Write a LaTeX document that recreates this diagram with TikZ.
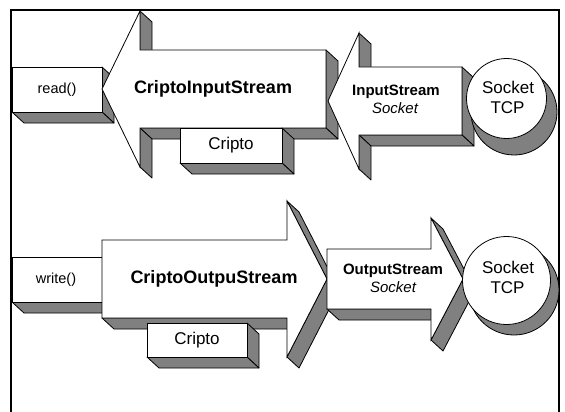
\documentclass[tikz,border=0pt]{standalone}
\usepackage{fontspec}
\setmainfont{Liberation Sans}
\definecolor{shade}{RGB}{128,128,128}
\tikzset{
  face/.style={fill=shade,draw=black,line width=0.8pt,line join=round},
  front/.style={fill=white,draw=black,line width=0.8pt,line join=miter},
  lbl/.style={inner sep=0pt,text height=0.72em,text depth=0pt},
  big/.style={lbl,font=\fontsize{18}{20}\selectfont\bfseries},
  mid/.style={lbl,font=\fontsize{15}{17}\selectfont\bfseries},
  midit/.style={lbl,font=\fontsize{15}{17}\selectfont\itshape},
  box/.style={lbl,font=\fontsize{17}{19}\selectfont},
  small/.style={lbl,font=\fontsize{14.5}{16}\selectfont},
  frame/.style={draw=black,line width=2pt}
}
\begin{document}
\begin{tikzpicture}[x=1pt,y=-1pt]
\useasboundingbox (0,0) rectangle (565,412);
\fill[white] (0,0) rectangle (565,412);
\draw[frame] (11,414) -- (11,10.5) -- (559,10.5) -- (559,414);

% ---------- top row ----------
% read() box
\draw[face] (102,67) -- (102,112) -- (114,123) -- (114,78) -- cycle;
\draw[face] (102,112) -- (12,112) -- (24,123) -- (114,123) -- cycle;
\draw[front] (12,67) rectangle (102,112);
\node[small] (read) at (57,90) {read()};

% CriptoInputStream arrow (pointing left)
\draw[face] (140,11) -- (140,50) -- (152,61) -- (152,22) -- cycle;
\draw[face] (326,50) -- (326,128) -- (338,139) -- (338,61) -- cycle;
\draw[face] (326,128) -- (140,128) -- (152,139) -- (338,139) -- cycle;
\draw[face] (140,128) -- (140,167) -- (152,178) -- (152,139) -- cycle;
\draw[front] (102,89) -- (140,11) -- (140,50) -- (326,50) -- (326,128) -- (140,128) -- (140,167) -- cycle;
\node[big] (cis) at (213,90) {CriptoInputStream};

% Cripto box (top)
\draw[face] (282,128) -- (282,163) -- (294,174) -- (294,139) -- cycle;
\draw[face] (282,163) -- (180,163) -- (192,174) -- (294,174) -- cycle;
\draw[front] (180,128) rectangle (282,163);
\node[box] (cripto1) at (231,146) {Cripto};

% InputStream arrow (pointing left)
\draw[face] (359,33) -- (359,67) -- (371,78) -- (371,44) -- cycle;
\draw[face] (462,67) -- (462,135) -- (474,146) -- (474,78) -- cycle;
\draw[face] (462,135) -- (359,135) -- (371,146) -- (474,146) -- cycle;
\draw[face] (359,135) -- (359,169) -- (371,180) -- (371,146) -- cycle;
\draw[front] (328,101) -- (359,33) -- (359,67) -- (462,67) -- (462,135) -- (359,135) -- (359,169) -- cycle;
\node[mid] (is) at (396,92) {InputStream};
\node[midit] (is2) at (395,110) {Socket};

% Socket TCP (top)
\draw[face] (514,112) circle[radius=43];
\draw[front] (506.5,98.5) circle[radius=40];
\node[box] (tcp1a) at (508,90) {Socket};
\node[box] (tcp1b) at (507.5,110) {TCP};

% ---------- bottom row ----------
% write() box
\draw[face] (102,257) -- (102,302) -- (114,313) -- (114,268) -- cycle;
\draw[face] (102,302) -- (12,302) -- (24,313) -- (114,313) -- cycle;
\draw[front] (12,257) rectangle (102,302);
\node[small] (write) at (56,280) {write()};

% CriptoOutpuStream arrow (pointing right)
\draw[face] (287,318) -- (102,318) -- (114,329) -- (299,329) -- cycle;
\draw[face] (287,201) -- (327,279) -- (339,290) -- (299,212) -- cycle;
\draw[face] (327,279) -- (287,357) -- (299,368) -- (339,290) -- cycle;
\draw[front] (102,240) -- (287,240) -- (287,201) -- (327,279) -- (287,357) -- (287,318) -- (102,318) -- cycle;
\node[big] (cos) at (214,280) {CriptoOutpuStream};

% Cripto box (bottom)
\draw[face] (247,323) -- (247,357) -- (259,368) -- (259,334) -- cycle;
\draw[face] (247,357) -- (147,357) -- (159,368) -- (259,368) -- cycle;
\draw[front] (147,323) rectangle (247,357);
\node[box] (cripto2) at (197,341) {Cripto};

% OutputStream arrow (pointing right)
\draw[face] (431,309) -- (327,309) -- (339,320) -- (443,320) -- cycle;
\draw[face] (431,218) -- (463,279) -- (475,290) -- (443,229) -- cycle;
\draw[face] (463,279) -- (431,340) -- (443,351) -- (475,290) -- cycle;
\draw[front] (327,249) -- (431,249) -- (431,218) -- (463,279) -- (431,340) -- (431,309) -- (327,309) -- cycle;
\node[mid] (os) at (393,271) {OutputStream};
\node[midit] (os2) at (393,289) {Socket};

% Socket TCP (bottom)
\draw[face] (514,290) circle[radius=45];
\draw[front] (506.5,280.5) circle[radius=44];
\node[box] (tcp2a) at (508,270) {Socket};
\node[box] (tcp2b) at (507.5,290) {TCP};
\end{tikzpicture}
\end{document}
